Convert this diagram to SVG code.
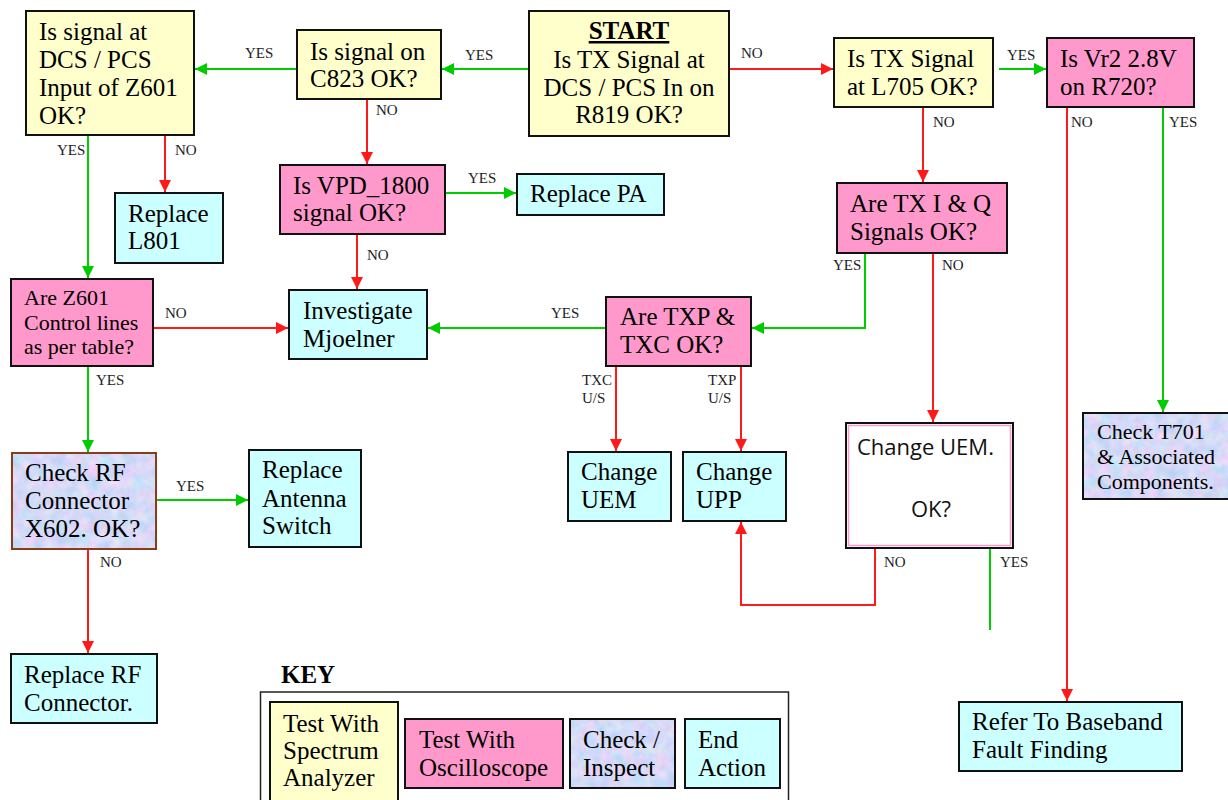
<svg xmlns="http://www.w3.org/2000/svg" width="1228" height="800" viewBox="0 0 1228 800">
  <defs>
    <style>
      .box { stroke: #111; stroke-width: 2; }
      .y { fill: #FFFFCC; }
      .p { fill: #FF99CC; }
      .c { fill: #CCFFFF; }
      .w { fill: #FFFFFF; }
      .t { font-family: "Liberation Serif", "Times New Roman", serif; font-size: 25px; fill: #000; }
      .s { font-family: "Liberation Serif", "Times New Roman", serif; font-size: 22px; fill: #000; }
      .sans { font-family: "Open Sans", "DejaVu Sans", sans-serif; font-size: 22px; fill: #111; }
      .lbl { font-family: "Liberation Serif", "Times New Roman", serif; font-size: 15px; fill: #222; }
      .g { fill: none; stroke: #00CC00; stroke-width: 2; }
      .r { fill: none; stroke: #FF1A1A; stroke-width: 2; }
      .ga { marker-end: url(#arrowG); }
      .ra { marker-end: url(#arrowR); }
    </style>
    <marker id="arrowG" viewBox="0 0 12 12" refX="12" refY="6" markerWidth="12" markerHeight="12" markerUnits="userSpaceOnUse" orient="auto">
      <path d="M0,0 L12,6 L0,12 z" fill="#00CC00"/>
    </marker>
    <marker id="arrowR" viewBox="0 0 12 12" refX="12" refY="6" markerWidth="12" markerHeight="12" markerUnits="userSpaceOnUse" orient="auto">
      <path d="M0,0 L12,6 L0,12 z" fill="#FF1A1A"/>
    </marker>
    <!-- mottled blue/lavender texture for "Check / Inspect" boxes -->
    <filter id="mottle" x="0" y="0" width="100%" height="100%" color-interpolation-filters="sRGB">
      <feTurbulence type="fractalNoise" baseFrequency="0.09" numOctaves="3" seed="7" result="n"/>
      <feColorMatrix in="n" type="matrix" values="0.35 0 0 0 0.66  0 0.15 0 0 0.78  0 0 0.08 0 0.93  0 0 0 0 1"/>
    </filter>
  </defs>

  <rect width="1228" height="800" fill="#FFFFFF"/>

  <!-- connectors -->
  <g id="connectors">
    <path class="g ga" d="M529,69 H442"/>
    <path class="g ga" d="M297,69 H195"/>
    <path class="r ra" d="M729,69 H833"/>
    <path class="g ga" d="M999,69 H1046"/>
    <path class="r ra" d="M165,135 V192"/>
    <path class="g ga" d="M88,135 V278"/>
    <path class="r ra" d="M367,99 V164"/>
    <path class="g ga" d="M445,193 H516"/>
    <path class="r ra" d="M357,234 V289"/>
    <path class="r ra" d="M153,328 H288"/>
    <path class="g ga" d="M606,328 H428"/>
    <path class="g ga" d="M865,253 V328 H752"/>
    <path class="r ra" d="M933,253 V422"/>
    <path class="r ra" d="M923,107 V182"/>
    <path class="r ra" d="M1067,107 V701"/>
    <path class="g ga" d="M1163,107 V412"/>
    <path class="g ga" d="M88,366 V452"/>
    <path class="g ga" d="M156,500 H248"/>
    <path class="r ra" d="M88,549 V653"/>
    <path class="r ra" d="M616,366 V451"/>
    <path class="r ra" d="M741,366 V451"/>
    <path class="r ra" d="M875,548 V605 H741 V522"/>
    <path class="g" d="M990,548 V630"/>

    <text class="lbl" x="465" y="60">YES</text>
    <text class="lbl" x="245" y="58">YES</text>
    <text class="lbl" x="741" y="58">NO</text>
    <text class="lbl" x="1007" y="60">YES</text>
    <text class="lbl" x="175" y="155">NO</text>
    <text class="lbl" x="57" y="155">YES</text>
    <text class="lbl" x="376" y="115">NO</text>
    <text class="lbl" x="468" y="183">YES</text>
    <text class="lbl" x="367" y="260">NO</text>
    <text class="lbl" x="165" y="318">NO</text>
    <text class="lbl" x="551" y="318">YES</text>
    <text class="lbl" x="833" y="270">YES</text>
    <text class="lbl" x="942" y="270">NO</text>
    <text class="lbl" x="933" y="127">NO</text>
    <text class="lbl" x="1071" y="127">NO</text>
    <text class="lbl" x="1169" y="127">YES</text>
    <text class="lbl" x="96" y="385">YES</text>
    <text class="lbl" x="176" y="491">YES</text>
    <text class="lbl" x="100" y="567">NO</text>
    <text class="lbl" x="582" y="385">TXC</text>
    <text class="lbl" x="582" y="403">U/S</text>
    <text class="lbl" x="708" y="385">TXP</text>
    <text class="lbl" x="708" y="403">U/S</text>
    <text class="lbl" x="884" y="567">NO</text>
    <text class="lbl" x="1000" y="567">YES</text>
  </g>

  <!-- nodes -->
  <g id="n_start">
    <rect class="box y" x="529" y="11" width="200" height="125"/>
    <text class="t" x="629" y="39" text-anchor="middle" font-weight="bold" text-decoration="underline">START</text>
    <text class="t" x="629" y="68" text-anchor="middle">Is TX Signal at</text>
    <text class="t" x="629" y="96" text-anchor="middle">DCS / PCS In on</text>
    <text class="t" x="629" y="123" text-anchor="middle">R819 OK?</text>
  </g>

  <g id="n_c823">
    <rect class="box y" x="297" y="30" width="144" height="69"/>
    <text class="t" x="310" y="60">Is signal on</text>
    <text class="t" x="310" y="87">C823 OK?</text>
  </g>

  <g id="n_z601_input">
    <rect class="box y" x="26" y="11" width="168" height="124"/>
    <text class="t" x="39" y="40">Is signal at</text>
    <text class="t" x="39" y="68">DCS / PCS</text>
    <text class="t" x="39" y="96">Input of Z601</text>
    <text class="t" x="39" y="124">OK?</text>
  </g>

  <g id="n_l705">
    <rect class="box y" x="834" y="38" width="159" height="69"/>
    <text class="t" x="847" y="67">Is TX Signal</text>
    <text class="t" x="847" y="95">at L705 OK?</text>
  </g>

  <g id="n_vr2">
    <rect class="box p" x="1047" y="38" width="147" height="69"/>
    <text class="t" x="1060" y="67">Is Vr2 2.8V</text>
    <text class="t" x="1060" y="95">on R720?</text>
  </g>

  <g id="n_vpd">
    <rect class="box p" x="280" y="165" width="165" height="69"/>
    <text class="t" x="293" y="194">Is VPD_1800</text>
    <text class="t" x="293" y="221">signal OK?</text>
  </g>

  <g id="n_replace_pa">
    <rect class="box c" x="517" y="174" width="147" height="41"/>
    <text class="t" x="530" y="202">Replace PA</text>
  </g>

  <g id="n_replace_l801">
    <rect class="box c" x="115" y="193" width="108" height="70"/>
    <text class="t" x="128" y="222">Replace</text>
    <text class="t" x="128" y="249">L801</text>
  </g>

  <g id="n_iq">
    <rect class="box p" x="837" y="183" width="170" height="70"/>
    <text class="t" x="850" y="212">Are TX I &amp; Q</text>
    <text class="t" x="850" y="240">Signals OK?</text>
  </g>

  <g id="n_z601_ctrl">
    <rect class="box p" x="11" y="279" width="142" height="87"/>
    <text class="s" x="24" y="305">Are Z601</text>
    <text class="s" x="24" y="330">Control lines</text>
    <text class="s" x="24" y="354">as per table?</text>
  </g>

  <g id="n_mjoelner">
    <rect class="box c" x="289" y="290" width="138" height="69"/>
    <text class="t" x="303" y="319">Investigate</text>
    <text class="t" x="303" y="347">Mjoelner</text>
  </g>

  <g id="n_txp_txc">
    <rect class="box p" x="606" y="297" width="145" height="69"/>
    <text class="t" x="620" y="325">Are TXP &amp;</text>
    <text class="t" x="620" y="353">TXC OK?</text>
  </g>

  <g id="n_check_rf">
    <rect x="12" y="453" width="144" height="96" filter="url(#mottle)"/>
    <rect x="12" y="453" width="144" height="96" fill="none" stroke="#8B3A1A" stroke-width="2"/>
    <text class="t" x="25" y="481">Check RF</text>
    <text class="t" x="25" y="509">Connector</text>
    <text class="t" x="25" y="537">X602. OK?</text>
  </g>

  <g id="n_antenna">
    <rect class="box c" x="249" y="450" width="112" height="97"/>
    <text class="t" x="262" y="478">Replace</text>
    <text class="t" x="262" y="507">Antenna</text>
    <text class="t" x="262" y="534">Switch</text>
  </g>

  <g id="n_change_uem">
    <rect class="box c" x="568" y="452" width="103" height="69"/>
    <text class="t" x="581" y="480">Change</text>
    <text class="t" x="581" y="508">UEM</text>
  </g>

  <g id="n_change_upp">
    <rect class="box c" x="683" y="452" width="103" height="69"/>
    <text class="t" x="696" y="480">Change</text>
    <text class="t" x="696" y="508">UPP</text>
  </g>

  <g id="n_change_uem_ok">
    <rect x="846" y="423" width="167" height="125" fill="#FFFFFF" stroke="#111" stroke-width="2"/>
    <rect x="848.5" y="425.5" width="162" height="120" fill="none" stroke="#FF99CC" stroke-width="1.5"/>
    <text class="sans" x="857" y="455">Change UEM.</text>
    <text class="sans" x="931" y="517" text-anchor="middle">OK?</text>
  </g>

  <g id="n_t701">
    <rect x="1083" y="413" width="160" height="86" filter="url(#mottle)"/>
    <rect x="1083" y="413" width="160" height="86" fill="none" stroke="#111" stroke-width="2"/>
    <text class="s" x="1097" y="439">Check T701</text>
    <text class="s" x="1097" y="464">&amp; Associated</text>
    <text class="s" x="1097" y="489">Components.</text>
  </g>

  <g id="n_baseband">
    <rect class="box c" x="959" y="702" width="223" height="69"/>
    <text class="t" x="972" y="730">Refer To Baseband</text>
    <text class="t" x="972" y="758">Fault Finding</text>
  </g>

  <g id="n_replace_rf">
    <rect class="box c" x="11" y="654" width="146" height="69"/>
    <text class="t" x="24" y="683">Replace RF</text>
    <text class="t" x="24" y="711">Connector.</text>
  </g>

  <!-- legend -->
  <g id="key">
    <text class="t" x="281" y="683" font-size="27" font-weight="bold">KEY</text>
    <rect x="260.5" y="692" width="528" height="120" fill="none" stroke="#222" stroke-width="1.5"/>
    <rect class="box y" x="270" y="702" width="128" height="110"/>
    <text class="t" x="283" y="732">Test With</text>
    <text class="t" x="283" y="759">Spectrum</text>
    <text class="t" x="283" y="786">Analyzer</text>
    <rect class="box p" x="405" y="719" width="158" height="69"/>
    <text class="t" x="419" y="748">Test With</text>
    <text class="t" x="419" y="776">Oscilloscope</text>
    <rect x="570" y="719" width="105" height="69" filter="url(#mottle)"/>
    <rect x="570" y="719" width="105" height="69" fill="none" stroke="#111" stroke-width="2"/>
    <text class="t" x="583" y="748">Check /</text>
    <text class="t" x="583" y="776">Inspect</text>
    <rect class="box c" x="685" y="719" width="95" height="69"/>
    <text class="t" x="698" y="748">End</text>
    <text class="t" x="698" y="776">Action</text>
  </g>
</svg>
